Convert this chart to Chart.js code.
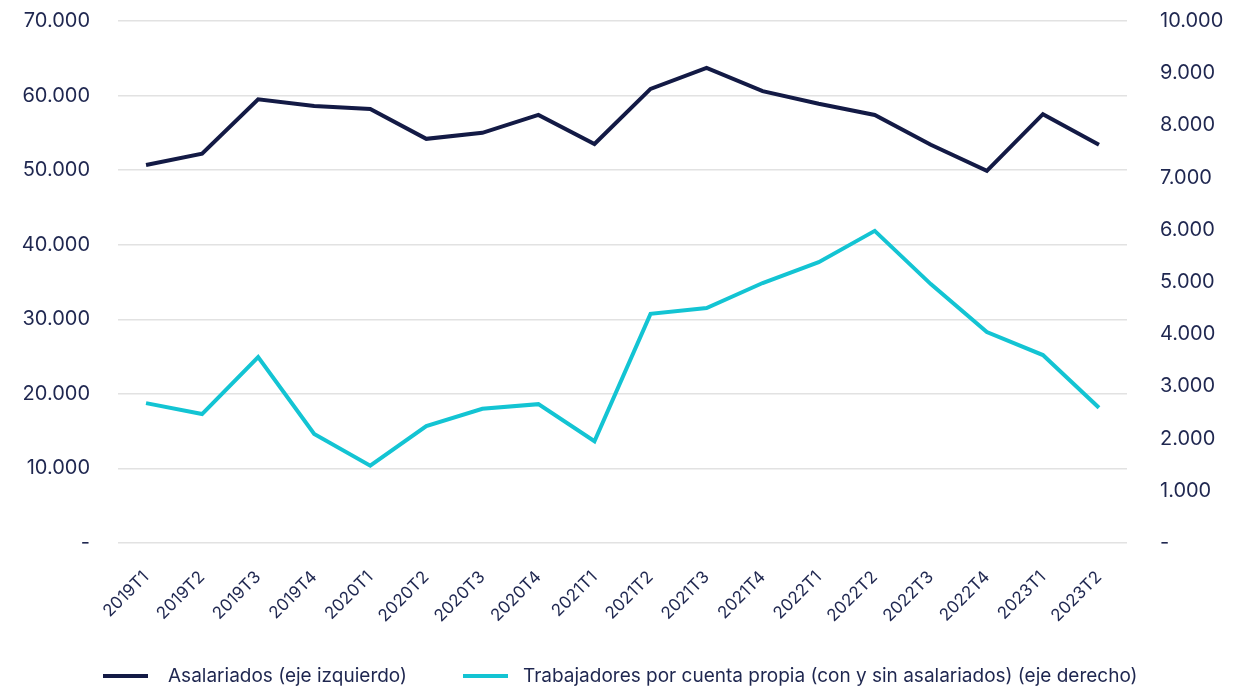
<!DOCTYPE html>
<html>
<head>
<meta charset="utf-8">
<script src="https://cdn.jsdelivr.net/npm/chart.js@4/dist/chart.umd.min.js"></script>
<style>
  html, body { margin: 0; padding: 0; background: #fff; }
  #wrap { width: 1250px; height: 688px; }
</style>
</head>
<body>
<div id="wrap"><canvas id="chart" width="1250" height="688"></canvas></div>
<script>
const categories = ["2019T1","2019T2","2019T3","2019T4","2020T1","2020T2","2020T3","2020T4",
  "2021T1","2021T2","2021T3","2021T4","2022T1","2022T2","2022T3","2022T4","2023T1","2023T2"];
const asalariados = [50700, 52200, 59500, 58600, 58200, 54200, 55000, 57400,
  53500, 60900, 63700, 60600, 58900, 57400, 53400, 49900, 57500, 53400];
const cuentaPropia = [2680, 2470, 3560, 2090, 1480, 2240, 2570, 2660,
  1950, 4390, 4500, 4980, 5380, 5980, 4960, 4040, 3600, 2590];
const leftTicks = [0, 10000, 20000, 30000, 40000, 50000, 60000, 70000];
const rightTicks = [0, 1000, 2000, 3000, 4000, 5000, 6000, 7000, 8000, 9000, 10000];
const seriesLabels = ["Asalariados (eje izquierdo)",
  "Trabajadores por cuenta propia (con y sin asalariados) (eje derecho)"];

const NAVY = "#131a45";
const CYAN = "#13c4d3";
const TEXT = "#1f2750";
const FONT = "Inter, 'Noto Sans', sans-serif";

function fmt(v) {
  if (v === 0) return "-";
  return String(v).replace(/\B(?=(\d{3})+(?!\d))/g, ".");
}

// leyenda dibujada a mano para controlar posiciones
const legendPlugin = {
  id: "bottomLegend",
  afterDraw(chart) {
    const ctx = chart.ctx;
    const items = [
      { x: 103, textX: 168 },
      { x: 463, textX: 523 }
    ];
    ctx.save();
    ctx.font = "19px " + FONT;
    ctx.textBaseline = "middle";
    chart.data.datasets.forEach((ds, i) => {
      const y = 676;
      ctx.strokeStyle = ds.borderColor;
      ctx.lineWidth = 4;
      ctx.beginPath();
      ctx.moveTo(items[i].x, y);
      ctx.lineTo(items[i].x + 45, y);
      ctx.stroke();
      ctx.fillStyle = TEXT;
      ctx.fillText(ds.label, items[i].textX, y);
    });
    ctx.restore();
  }
};

new Chart(document.getElementById("chart"), {
  type: "line",
  data: {
    labels: categories,
    datasets: [
      { label: seriesLabels[0], data: asalariados, yAxisID: "y",
        borderColor: NAVY, backgroundColor: NAVY, borderWidth: 4,
        pointRadius: 0, tension: 0 },
      { label: seriesLabels[1], data: cuentaPropia, yAxisID: "y1",
        borderColor: CYAN, backgroundColor: CYAN, borderWidth: 4,
        pointRadius: 0, tension: 0 }
    ]
  },
  options: {
    responsive: false,
    animation: false,
    layout: { padding: { top: 21, bottom: 0, left: 0, right: 0 } },
    plugins: { legend: { display: false }, tooltip: { enabled: false } },
    scales: {
      x: {
        offset: true,
        grid: { display: false },
        border: { display: false },
        ticks: {
          color: TEXT, font: { family: FONT, size: 17 },
          maxRotation: 45, minRotation: 45, padding: 16, autoSkip: false
        },
        afterFit(s) { s.height = 145; }
      },
      y: {
        position: "left",
        min: 0, max: 70000,
        grid: { color: "#e2e2e2", lineWidth: 1.5, tickColor: "transparent", tickLength: 28 },
        border: { display: false },
        afterBuildTicks(s) { s.ticks = leftTicks.map(v => ({ value: v })); },
        ticks: {
          color: TEXT, font: { family: FONT, size: 20 }, padding: 0,
          callback: v => fmt(v)
        },
        afterFit(s) { s.width = 118; }
      },
      y1: {
        position: "right",
        min: 0, max: 10000,
        grid: { drawOnChartArea: false, color: "transparent", tickColor: "transparent", tickLength: 33 },
        border: { display: false },
        afterBuildTicks(s) { s.ticks = rightTicks.map(v => ({ value: v })); },
        ticks: {
          color: TEXT, font: { family: FONT, size: 20 }, padding: 0,
          callback: v => fmt(v)
        },
        afterFit(s) { s.width = 123; }
      }
    }
  },
  plugins: [legendPlugin]
});
</script>
</body>
</html>
